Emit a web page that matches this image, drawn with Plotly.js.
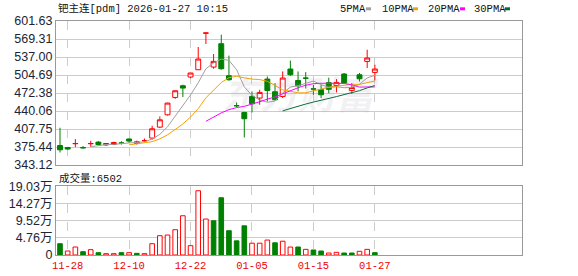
<!DOCTYPE html>
<html><head><meta charset="utf-8">
<script src="https://cdn.plot.ly/plotly-3.0.1.min.js"></script>
<style>html,body{margin:0;padding:0;background:#fff}#chart{width:578px;height:276px}</style>
</head><body><div id="chart"></div>
<script>
const dates = ["2025-11-27","2025-11-28","2025-12-01","2025-12-02","2025-12-03","2025-12-04","2025-12-05",
  "2025-12-08","2025-12-09","2025-12-10","2025-12-11","2025-12-12","2025-12-15","2025-12-16","2025-12-17",
  "2025-12-18","2025-12-19","2025-12-22","2025-12-23","2025-12-24","2025-12-25","2025-12-26","2025-12-29",
  "2025-12-30","2025-12-31","2026-01-05","2026-01-06","2026-01-07","2026-01-08","2026-01-09","2026-01-12",
  "2026-01-13","2026-01-14","2026-01-15","2026-01-16","2026-01-19","2026-01-20","2026-01-21","2026-01-22",
  "2026-01-23","2026-01-26","2026-01-27"];
const openP  = [378.3,374.7,381.5,374.5,381.5,384.4,379.4,380.1,382.9,390.0,381.9,387.0,391.6,411.3,433.4,
  464.5,485.5,501.1,514.2,579.8,519.0,560.9,503.4,449.9,437.6,466.3,463.4,497.5,474.7,466.3,515.5,
  495.0,499.3,479.9,478.3,491.0,486.0,506.5,477.0,505.2,529.1,509.4];
const highP  = [410.1,375.8,389.8,377.2,386.7,386.2,382.5,385.0,386.0,391.0,387.0,390.8,413.7,430.4,455.0,
  477.0,487.3,508.8,555.0,580.1,542.4,577.0,539.5,455.5,438.8,475.3,478.3,502.2,490.3,511.2,530.6,
  511.2,510.0,487.3,487.3,500.0,497.5,508.3,490.3,508.3,550.1,523.2];
const lowP   = [365.7,370.5,375.5,372.9,375.9,377.8,377.5,379.0,380.0,383.0,380.0,385.0,388.6,409.6,432.0,
  462.0,465.2,499.0,514.0,560.3,516.0,514.2,494.5,447.3,392.7,437.6,451.4,457.3,459.0,463.4,503.4,
  475.3,480.6,469.3,463.4,472.0,473.5,490.3,471.1,493.2,517.3,495.0];
const closeP = [370.6,371.9,381.9,374.2,381.9,380.1,381.9,383.7,382.6,386.2,385.0,387.3,408.3,424.4,454.4,
  476.5,481.3,508.3,533.4,580.1,529.2,516.0,496.3,449.6,426.3,453.2,473.5,477.0,460.3,499.3,505.2,
  485.5,499.0,479.6,469.3,479.0,491.4,490.5,482.4,498.0,535.2,515.5];
// volume in 万 (10k lots)
const volume10k = [3.14,1.11,2.22,0.92,1.48,0.65,0.37,0.37,0.65,0.65,0.46,0.37,3.14,5.36,5.55,
  7.03,10.9,2.59,17.85,9.99,9.5,15.9,6.75,3.93,8.1,3.28,3.28,4.15,3.38,3.83,2.2,
  2.22,1.57,1.39,1.11,0.55,0.74,0.55,0.55,1.02,1.57,0.65];
const tickDates  = ["2025-11-28","2025-12-10","2025-12-22","2026-01-05","2026-01-15","2026-01-27"];
const tickLabels = ["11-28","12-10","12-22","01-05","01-15","01-27"];
const priceTicks = [343.12,375.44,407.75,440.06,472.38,504.69,537.00,569.31,601.63];
const priceTickText = ["343.12","375.44","407.75","440.06","472.38","504.69","537.00","569.31","601.63"];
const volTicks = [0,4.76,9.52,14.27,19.03];
const volTickText = ["0","4.76万","9.52万","14.27万","19.03万"];
const maPeriods = [5,10,20,30];
const maNames = ["5PMA","10PMA","20PMA","30PMA"];
const maColors = ["#a0a0a0","#f5a200","#ff00ff","#006b33"];

function movingAverage(values, n){
  return values.map((v,i)=>{
    if(i < n-1) return null;
    let s=0; for(let k=i-n+1;k<=i;k++) s+=values[k];
    return s/n;
  });
}

(function(){
const RED="#ff0000", GREEN="#008000";
const traces = [];
traces.push({
  type:"candlestick", x:dates, open:openP, high:highP, low:lowP, close:closeP,
  xaxis:"x", yaxis:"y", whiskerwidth:0, hoverinfo:"none", showlegend:false,
  increasing:{line:{color:RED,width:1}, fillcolor:"#ffffff"},
  decreasing:{line:{color:GREEN,width:1}, fillcolor:GREEN}
});
maPeriods.forEach((n,k)=>{
  traces.push({type:"scatter", mode:"lines", x:dates, y:movingAverage(closeP,n),
    xaxis:"x", yaxis:"y", line:{color:maColors[k], width:1}, hoverinfo:"none", showlegend:false});
});
const volUp = closeP.map((c,i)=> i===0 ? c>=openP[i] : c>=closeP[i-1]);
traces.push({type:"bar", x:dates, y:volume10k, xaxis:"x2", yaxis:"y2", width:0.6,
  marker:{color:volUp.map(u=>u?"#ffffff":GREEN), line:{color:volUp.map(u=>u?RED:GREEN), width:1}},
  hoverinfo:"none", showlegend:false});

const pTop=21, pBottom=255.3, H=pBottom-pTop, pLeft=56, pRight=522, W=pRight-pLeft;
const py = p => (pBottom-p)/H;
const px = p => (p-pLeft)/W;

const xcommon = {type:"category", categoryorder:"array", categoryarray:dates, range:[-0.52,60.16],
  tickvals:tickDates, ticktext:tickLabels, showgrid:true, gridcolor:"#cccccc", griddash:"dash", gridwidth:1,
  showline:true, mirror:true, linecolor:"#999999", linewidth:1, zeroline:false, ticks:"",
  fixedrange:true, rangeslider:{visible:false}};
const ycommon = {showgrid:true, gridcolor:"#cccccc", gridwidth:1, showline:true, mirror:true,
  linecolor:"#999999", linewidth:1, zeroline:false, ticks:"", fixedrange:true,
  tickfont:{family:"Liberation Sans, Noto Sans CJK SC", size:12.5, color:"#1c2535"}};

const textFont = {family:"Liberation Mono, Noto Sans CJK SC", size:10.5, color:"#111111"};
const annotations = [
  {xref:"paper", yref:"paper", x:0, y:py(8.5), xanchor:"left", yanchor:"middle", showarrow:false,
   text:"钯主连[pdm] 2026-01-27 10:15", font:textFont},
  {xref:"paper", yref:"paper", x:px(57), y:py(178.3), xanchor:"left", yanchor:"middle", showarrow:false,
   text:"成交量:6502", font:textFont},
  {xref:"paper", yref:"paper", x:px(300), y:py(93), xanchor:"center", yanchor:"middle", showarrow:false,
   text:"<b><i>东方财富</i></b>", font:{family:"Noto Sans CJK SC", size:38, color:"rgba(150,150,170,0.13)"}}
];
const legendTextX = [338,380,425.7,471.7];
const legendBoxX = [366,413,460,505];
const shapes = [];
maNames.forEach((nm,k)=>{
  annotations.push({xref:"paper", yref:"paper", x:px(legendTextX[k]), y:py(8.7), xanchor:"left", yanchor:"middle",
    showarrow:false, text:nm, font:textFont});
  shapes.push({type:"rect", xref:"paper", yref:"paper", x0:px(legendBoxX[k]), x1:px(legendBoxX[k]+5),
    y0:py(10.3), y1:py(7.3), fillcolor:maColors[k], line:{width:0}});
});

const layout = {
  width:578, height:276, margin:{l:pLeft, r:578-pRight, t:pTop, b:276-pBottom},
  paper_bgcolor:"#ffffff", plot_bgcolor:"#ffffff", showlegend:false,
  boxgap:0.36, boxgroupgap:0, bargap:0.4,
  xaxis:Object.assign({}, xcommon, {anchor:"y", showticklabels:false}),
  xaxis2:Object.assign({}, xcommon, {anchor:"y2", showticklabels:true,
    tickfont:{family:"Liberation Mono", size:10.5, color:"#ee0000"}}),
  yaxis:Object.assign({}, ycommon, {domain:[py(165.3),1], range:[343.12,601.63],
    tickvals:priceTicks, ticktext:priceTickText}),
  yaxis2:Object.assign({}, ycommon, {domain:[0,py(186.7)], range:[0,19.03],
    tickvals:volTicks, ticktext:volTickText}),
  annotations:annotations, shapes:shapes
};
Plotly.newPlot("chart", traces, layout, {staticPlot:true, displayModeBar:false});
})();
</script></body></html>
